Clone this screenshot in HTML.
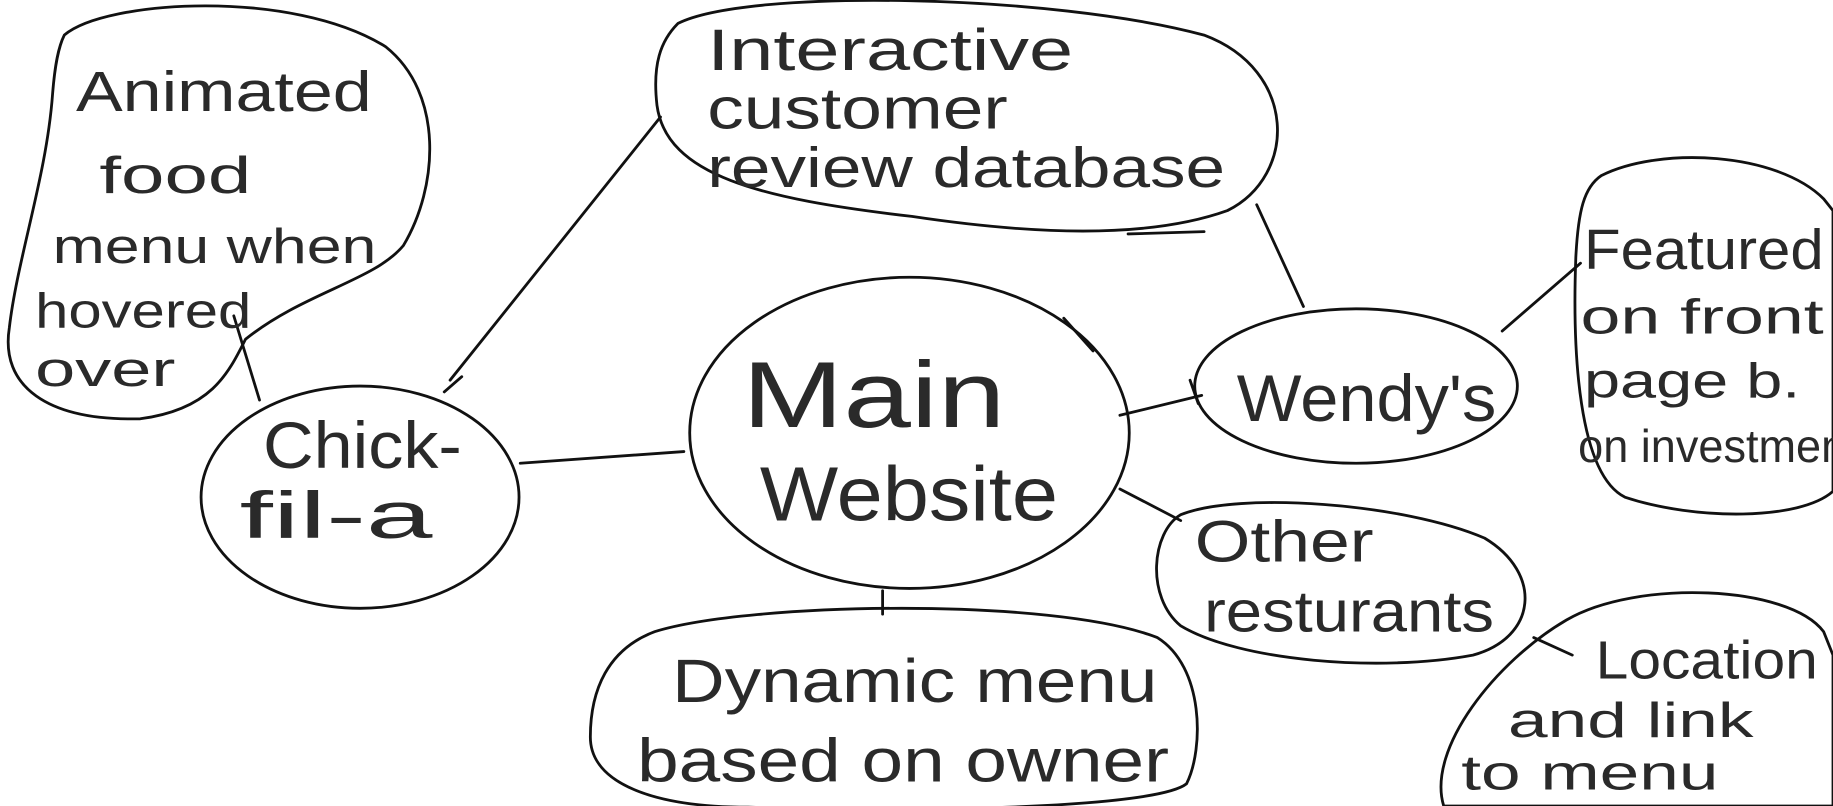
<!DOCTYPE html>
<html><head><meta charset="utf-8"><style>
html,body{margin:0;padding:0;background:#fff;width:1833px;height:806px;overflow:hidden}
svg{display:block}
text{font-family:"Liberation Sans",sans-serif;fill:#2a2a2a;font-weight:normal}
</style></head><body>
<svg width="1833" height="806" viewBox="0 0 1568 689" preserveAspectRatio="none" xmlns="http://www.w3.org/2000/svg">
<g fill="none" stroke="#111" stroke-width="2.4" stroke-linecap="round">
<path d="M55,30 C90,0 250,-10 330,40 C380,80 375,160 345,210 C320,240 260,250 210,290 C195,320 180,350 120,358 C40,360 0,330 8,280 C15,220 40,150 45,80 C47,55 50,40 55,30 Z"/>
<path d="M580,20 C640,-10 900,-5 1030,30 C1110,60 1110,150 1050,180 C980,205 880,200 780,185 C650,170 570,150 562,90 C558,55 565,35 580,20 Z"/>
<path d="M965,200 L1030,198"/>
<path d="M1370,150 C1420,125 1520,130 1560,170 L1568,180 L1568,420 C1540,445 1450,445 1390,425 C1350,405 1345,300 1348,220 C1350,180 1355,160 1370,150 Z"/>
<ellipse cx="778" cy="370" rx="188" ry="133"/>
<ellipse cx="308" cy="425" rx="136" ry="95"/>
<ellipse cx="1160" cy="330" rx="138" ry="66"/>
<path d="M1010,440 C1060,420 1200,430 1270,460 C1320,490 1315,545 1260,560 C1180,575 1060,565 1010,535 C980,510 985,455 1010,440 Z"/>
<path d="M560,540 C640,515 900,510 990,545 C1030,570 1030,640 1015,670 C990,690 800,695 640,690 C560,690 505,670 505,630 C505,590 520,555 560,540 Z"/>
<path d="M1340,530 C1400,495 1530,500 1560,540 L1568,560 L1568,689 L1235,689 C1220,640 1280,565 1340,530 Z"/>
<path d="M565,100 L385,325"/>
<path d="M380,335 L395,322"/>
<path d="M200,270 L222,342"/>
<path d="M445,396 L585,386"/>
<path d="M910,272 L935,300"/>
<path d="M958,355 L1028,338"/>
<path d="M1018,325 L1025,345"/>
<path d="M1075,175 L1115,262"/>
<path d="M1285,283 L1352,225"/>
<path d="M958,418 L1010,445"/>
<path d="M755,505 L755,525"/>
<path d="M1312,545 L1345,560"/>
</g>
<g>
<text x="65" y="95" font-size="48" textLength="253" lengthAdjust="spacingAndGlyphs">Animated</text>
<text x="85" y="165" font-size="44" textLength="130" lengthAdjust="spacingAndGlyphs">food</text>
<text x="45" y="225" font-size="42" textLength="277" lengthAdjust="spacingAndGlyphs">menu when</text>
<text x="30" y="280" font-size="42" textLength="185" lengthAdjust="spacingAndGlyphs">hovered</text>
<text x="30" y="330" font-size="42" textLength="120" lengthAdjust="spacingAndGlyphs">over</text>
<text x="605" y="60" font-size="50" textLength="313" lengthAdjust="spacingAndGlyphs">Interactive</text>
<text x="605" y="110" font-size="50" textLength="257" lengthAdjust="spacingAndGlyphs">customer</text>
<text x="605" y="160" font-size="48" textLength="443" lengthAdjust="spacingAndGlyphs">review database</text>
<text x="1355" y="230" font-size="48" textLength="205" lengthAdjust="spacingAndGlyphs">Featured</text>
<text x="1352" y="285" font-size="42" textLength="208" lengthAdjust="spacingAndGlyphs">on front</text>
<text x="1355" y="340" font-size="42" textLength="185" lengthAdjust="spacingAndGlyphs">page b.</text>
<text x="1350" y="395" font-size="40" textLength="240" lengthAdjust="spacingAndGlyphs">on investment</text>
<text x="635" y="365" font-size="80" textLength="225" lengthAdjust="spacingAndGlyphs">Main</text>
<text x="650" y="445" font-size="66" textLength="255" lengthAdjust="spacingAndGlyphs">Website</text>
<text x="225" y="400" font-size="56" textLength="170" lengthAdjust="spacingAndGlyphs">Chick-</text>
<text x="205" y="460" font-size="56" textLength="165" lengthAdjust="spacingAndGlyphs">fil-a</text>
<text x="1058" y="360" font-size="56" textLength="222" lengthAdjust="spacingAndGlyphs">Wendy's</text>
<text x="1022" y="480" font-size="50" textLength="153" lengthAdjust="spacingAndGlyphs">Other</text>
<text x="1030" y="540" font-size="50" textLength="248" lengthAdjust="spacingAndGlyphs">resturants</text>
<text x="575" y="600" font-size="52" textLength="415" lengthAdjust="spacingAndGlyphs">Dynamic menu</text>
<text x="545" y="668" font-size="52" textLength="455" lengthAdjust="spacingAndGlyphs">based on owner</text>
<text x="1365" y="580" font-size="46" textLength="190" lengthAdjust="spacingAndGlyphs">Location</text>
<text x="1290" y="630" font-size="42" textLength="210" lengthAdjust="spacingAndGlyphs">and link</text>
<text x="1250" y="675" font-size="42" textLength="220" lengthAdjust="spacingAndGlyphs">to menu</text>
</g>
</svg>
</body></html>
